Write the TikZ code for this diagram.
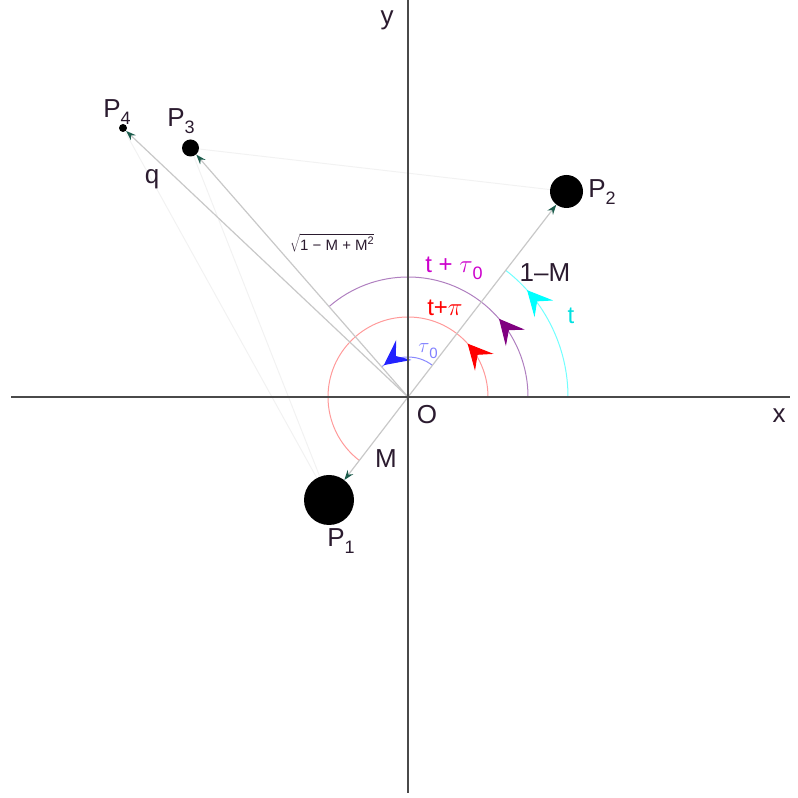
\documentclass[tikz,border=0pt]{standalone}
\usepackage{fontspec}
\setmainfont{Liberation Sans}
\usetikzlibrary{arrows.meta,decorations.markings}
\definecolor{ink}{HTML}{2B1B2F}
\definecolor{axisc}{HTML}{4A4A4A}
\definecolor{vecc}{HTML}{C8C8C8}
\definecolor{tipc}{HTML}{1C5C4C}
\definecolor{faint}{HTML}{F2F2F2}
\definecolor{cyanarc}{HTML}{70FFFF}
\definecolor{purparc}{HTML}{B080C0}
\definecolor{redarc}{HTML}{FF9A9A}
\definecolor{bluearc}{HTML}{8888FF}
\definecolor{cyantip}{HTML}{00FFFF}
\definecolor{purptip}{HTML}{800080}
\definecolor{redtip}{HTML}{FF0000}
\definecolor{bluetip}{HTML}{2222FF}
\definecolor{magl}{HTML}{CC00CC}
\definecolor{cyanl}{HTML}{00E0E0}
\definecolor{bluel}{HTML}{7F7FFF}
\newcommand\mysub[2]{\raisebox{-0.28em}{\fontsize{#1}{#1}\selectfont #2}}
\tikzset{
  body/.style={circle,fill=black,inner sep=0pt},
  vec/.style={draw=vecc,line width=1.2pt,-{Stealth[length=10pt,width=7pt,color=tipc]}},
  faintline/.style={draw=faint,line width=1pt},
  axis/.style={draw=axisc,line width=2pt},
  lab/.style={text=ink,font=\fontsize{26}{30}\selectfont,inner sep=0pt},
  anglearc/.style n args={3}{line width=1pt,draw=#1,postaction={decorate},
    decoration={markings,mark=at position #2 with {\arrow{Stealth[length=25pt,width=25pt,inset=10pt,color=#3]}}}},
}
\begin{document}
\begin{tikzpicture}[x=1pt,y=1pt]
\useasboundingbox (0,0) rectangle (798,798);
\coordinate (O) at (408,401);
\node[body,minimum size=50pt] (P1) at (329,298) {};
\node[body,minimum size=33pt] (P2) at (566.5,606.5) {};
\node[body,minimum size=17pt] (P3) at (190.5,650) {};
\node[body,minimum size=8pt] (P4) at (123,670) {};
% faint triangle lines
\draw[faintline] (P3) -- (P2);
\draw[faintline] (P3) -- (P1);
\draw[faintline] (P4) -- (P1);
% angle arcs
\draw[anglearc={cyanarc}{0.8}{cyantip}] ([shift={(0:160)}]O) arc[start angle=0,end angle=52.35,radius=160];
\draw[anglearc={purparc}{0.31}{purptip}] ([shift={(0:120)}]O) arc[start angle=0,end angle=131.1,radius=120];
\draw[anglearc={redarc}{0.18}{redtip}] ([shift={(0:80)}]O) arc[start angle=0,end angle=232.5,radius=80];
\draw[anglearc={bluearc}{0.95}{bluetip}] ([shift={(52.35:40)}]O) arc[start angle=52.35,end angle=131.1,radius=40];
% vectors
\draw[vec] (O) -- (P1);
\draw[vec] (O) -- (P2);
\draw[vec] (O) -- (P3);
\draw[vec] (O) -- (P4);
% axes
\coordinate (xl) at (11,401);
\coordinate (xr) at (790,401);
\coordinate (yb) at (408,5);
\coordinate (yt) at (408,798);
\draw[axis] (xl) -- (xr);
\draw[axis] (yb) -- (yt);
% labels
\node[lab] (lx) at (779,382) {x};
\node[lab] (ly) at (387,778) {y};
\node[lab] (lO) at (427,383) {O};
\node[lab] (lP1) at (341,257) {P\mysub{18}{1}};
\node[lab] (lP2) at (602,606) {P\mysub{18}{2}};
\node[lab] (lP3) at (181,677) {P\mysub{18}{3}};
\node[lab] (lP4) at (117,686) {P\mysub{18}{4}};
\node[lab] (lq) at (152,619) {q};
\node[lab] (lM) at (386,339) {M};
\node[lab] (l1M) at (545,525) {1–M};
\node[lab,text=magl,font=\fontsize{24}{28}\selectfont] (ltt) at (454,530) {t + $\tau$\mysub{18}{0}};
\node[lab,text=redtip,font=\fontsize{24}{28}\selectfont] (ltp) at (445,490) {t+$\pi$};
\node[lab,text=cyanl,font=\fontsize{24}{28}\selectfont] (lt) at (571,482) {t};
\node[lab,text=bluel,font=\fontsize{20}{24}\selectfont] (ltau) at (428,447) {$\tau$\mysub{15}{0}};
\node[lab,font=\fontsize{15}{17}\selectfont] (lsq) at (332,555) {$\sqrt{\hbox{1 − M + M\raisebox{0.45em}{\fontsize{11}{12}\selectfont 2}}}$};
\end{tikzpicture}
\end{document}
